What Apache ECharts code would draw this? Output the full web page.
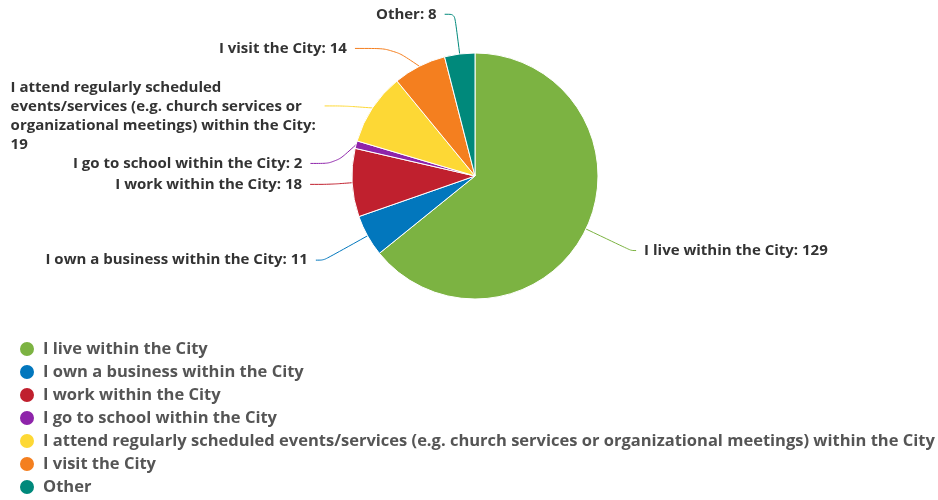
<!DOCTYPE html>
<html><head><meta charset="utf-8">
<script src="https://cdn.jsdelivr.net/npm/echarts@6/dist/echarts.min.js"></script>
<style>html,body{margin:0;padding:0;background:#fff}#c{width:938px;height:500px}</style>
</head><body><div id="c"></div>
<script>
const categories = [
  "I live within the City",
  "I own a business within the City",
  "I work within the City",
  "I go to school within the City",
  "I attend regularly scheduled events/services (e.g. church services or organizational meetings) within the City",
  "I visit the City",
  "Other"
];
const values = [129, 11, 18, 2, 19, 14, 8];
const colors = ["#7CB342", "#0277BD", "#C0202E", "#8E24AA", "#FDD835", "#F47F1F", "#00897B"];
// connector lengths per slice [radial, horizontal]
const connectorLengths = [[50, 5], [50, 8], [30, 20], [25, 25], [30, 20], [20, 38], [40, 10]];

const labelFont = { fontFamily: 'Open Sans', fontWeight: 'bold', fontSize: 15, color: '#333' };

// wrap on spaces only, to a maximum pixel width
function wrapWords(text, maxW) {
  const ctx = document.createElement('canvas').getContext('2d');
  ctx.font = labelFont.fontWeight + ' ' + labelFont.fontSize + 'px "' + labelFont.fontFamily + '"';
  const words = text.split(' ');
  const lines = [];
  let cur = '';
  words.forEach(w => {
    const t = cur ? cur + ' ' + w : w;
    if (cur && ctx.measureText(t).width > maxW) { lines.push(cur); cur = w; } else cur = t;
  });
  if (cur) lines.push(cur);
  const width = Math.ceil(Math.max(...lines.map(l => ctx.measureText(l).width)));
  return { text: lines.join('\n'), width };
}

const chart = echarts.init(document.getElementById('c'));
chart.setOption({
  animation: false,
  color: colors,
  legend: {
    orient: 'vertical', left: 13, top: 335, height: 200, itemGap: 5,
    icon: 'circle', itemWidth: 16, itemHeight: 16,
    textStyle: { fontFamily: 'Open Sans', fontWeight: 'bold', fontSize: 16.5, color: '#555', padding: [0, 0, 0, 3] },
    data: categories
  },
  series: [{
    type: 'pie', center: [475, 176], radius: 123, startAngle: 90, clockwise: true,
    itemStyle: { borderColor: '#fff', borderWidth: 1 },
    label: Object.assign({ formatter: '{b}: {c}', distanceToLabelLine: 8 }, labelFont),
    labelLine: { smooth: true, lineStyle: { width: 1 } },
    emphasis: { disabled: true },
    data: categories.map((n, i) => {
      const d = { name: n, value: values[i],
        labelLine: { length: connectorLengths[i][0], length2: connectorLengths[i][1] } };
      if (i === 4) {
        const w = wrapWords(n + ': ' + values[i], 308);
        d.label = {
          formatter: () => '{t|' + w.text + '}', width: w.width, lineHeight: 19,
          padding: [20, 0, 0, 0],
          rich: { t: Object.assign({ align: 'left', lineHeight: 19 }, labelFont) }
        };
      }
      return d;
    })
  }]
});
</script></body></html>
